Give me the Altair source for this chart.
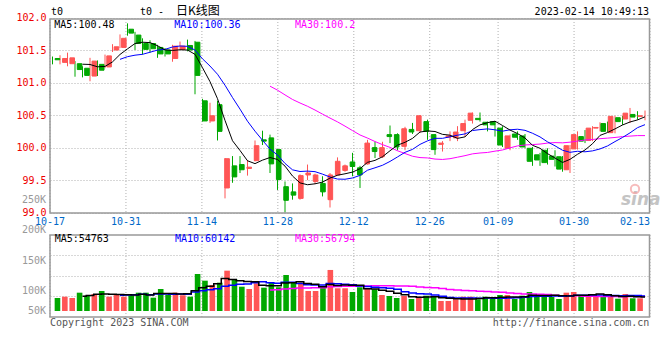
import altair as alt
import pandas as pd

RED = "#ff5555"
GREEN = "#00a800"
MONO = "DejaVu Sans Mono"
CJK = "Noto Sans CJK SC"

dates = ["10-17","10-18","10-19","10-20","10-21","10-24","10-25","10-26","10-27","10-28",
         "10-31","11-01","11-02","11-03","11-04","11-07","11-08","11-09","11-10","11-11",
         "11-14","11-15","11-16","11-17","11-18","11-21","11-22","11-23","11-24","11-25",
         "11-28","11-29","11-30","12-01","12-02","12-05","12-06","12-07","12-08","12-09",
         "12-12","12-13","12-14","12-15","12-16","12-19","12-20","12-21","12-22","12-23",
         "12-26","12-27","12-28","12-29","12-30","01-03","01-04","01-05","01-06",
         "01-09","01-10","01-11","01-12","01-13","01-16","01-17","01-18","01-19","01-20",
         "01-30","01-31","02-01","02-02","02-03","02-06","02-07","02-08","02-09","02-10","02-13"]

open_ = [101.37,101.31,101.29,101.29,101.22,101.10,101.28,101.24,101.50,101.54,
         101.82,101.73,101.60,101.60,101.54,101.50,101.37,101.51,101.57,101.62,
         100.72,100.41,100.66,99.38,99.72,99.74,99.68,99.80,100.12,100.15,
         99.97,99.40,99.32,99.22,99.58,99.48,99.45,99.20,99.58,99.65,
         99.78,99.69,99.75,100.00,99.86,100.20,100.20,100.02,100.28,100.26,
         100.40,100.20,100.05,100.16,100.15,100.26,100.42,100.45,100.39,
         100.40,100.30,99.99,100.21,100.18,99.99,99.89,99.96,99.87,99.86,
         99.66,99.98,100.17,100.11,100.30,100.37,100.23,100.46,100.44,100.51,100.48]
high = [101.40,101.42,101.46,101.33,101.25,101.38,101.34,101.43,101.59,101.74,
        101.91,101.78,101.68,101.65,101.58,101.53,101.58,101.63,101.66,101.64,
        100.75,100.69,100.72,99.84,99.87,99.87,99.81,100.11,100.26,100.20,
        99.98,99.48,99.45,99.59,99.74,99.60,99.56,99.61,99.85,99.74,
        99.92,99.72,100.12,100.09,100.09,100.34,100.22,100.32,100.38,100.50,
        100.43,100.21,100.10,100.25,100.33,100.43,100.54,100.54,100.40,
        100.41,100.33,100.20,100.25,100.21,100.01,99.92,99.99,99.96,99.87,
        100.04,100.25,100.27,100.33,100.39,100.40,100.49,100.49,100.61,100.56,100.57]
low = [101.28,101.28,101.25,101.09,101.08,101.02,101.10,101.22,101.47,101.53,
       101.72,101.50,101.43,101.46,101.38,101.40,101.32,101.50,101.48,100.82,
       100.40,100.38,100.11,99.22,99.46,99.61,99.57,99.79,100.04,99.61,
       99.35,99.00,99.20,99.20,99.50,99.44,99.25,99.08,99.57,99.63,
       99.56,99.38,99.74,99.84,99.84,100.07,99.96,99.96,100.21,100.23,
       100.12,99.89,99.94,100.10,100.10,100.17,100.37,100.40,100.25,
       100.17,100.01,99.96,100.12,99.99,99.72,99.72,99.74,99.71,99.63,
       99.61,99.97,100.07,100.10,100.25,100.24,100.22,100.35,100.38,100.43,100.42]
close = [101.35,101.37,101.38,101.20,101.11,101.33,101.19,101.41,101.55,101.68,
         101.76,101.60,101.51,101.52,101.44,101.44,101.56,101.56,101.50,101.11,
         100.41,100.49,100.25,99.83,99.55,99.66,99.70,100.03,100.10,99.75,
         99.51,99.19,99.27,99.57,99.61,99.58,99.32,99.58,99.79,99.72,
         99.71,99.58,100.07,99.94,100.00,100.17,100.01,100.29,100.24,100.49,
         100.25,99.97,100.07,100.18,100.24,100.37,100.53,100.43,100.35,
         100.35,100.04,100.18,100.16,100.01,99.79,99.81,99.77,99.82,99.67,
         100.03,100.20,100.10,100.30,100.31,100.25,100.48,100.40,100.53,100.47,100.49]
volume = [51500,56600,51500,72500,60600,67300,79200,56600,67300,56600,
          62200,72500,72500,52700,87100,63400,72500,62200,56600,146500,
          120000,103000,112100,159600,126700,96200,87100,109700,92300,114800,
          93900,142600,114800,112100,79200,79200,93900,162400,89900,89900,
          75200,93900,89900,85900,63400,59400,51500,59400,47500,56600,
          60600,56600,39600,39600,46300,56600,56600,46300,56600,
          47500,63400,63400,47500,60600,75200,62200,59400,55400,47500,
          72500,75200,63400,63400,60600,58200,58200,48700,67300,50300,50300]

label_dates = ["10-17","10-31","11-14","11-28","12-12","12-26","01-09","01-30","02-13"]
price_ticks = [99.0, 99.5, 100.0, 100.5, 101.0, 101.5, 102.0]
vol_grid_values = [60000, 140000, 220000]
vol_tick_values = [50000, 100000, 150000, 200000, 250000]
vol_tick_labels = ["50K", "100K", "150K", "200K", "250K"]

n = len(dates)
df = pd.DataFrame({"idx": list(range(n)), "date": dates, "open": open_, "high": high,
                   "low": low, "close": close, "volume": volume})
grid_df = pd.DataFrame({"idx": [dates.index(d) for d in label_dates], "label": label_dates})
vlab_df = pd.DataFrame({"v": vol_tick_values, "label": vol_tick_labels})

x_candle = alt.Scale(domain=[-1/3, n - 1/3], range=[0, 600], nice=False, zero=False)
x_grid = alt.Scale(domain=[0, n - 1], range=[0, 600], nice=False, zero=False)
y_price = alt.Scale(domain=[99, 102], range=[212.7, 17.5], nice=False, zero=False)
y_vol = alt.Scale(domain=[0, 300000], range=[311, 235.2], nice=False, zero=False)
y_vlab = alt.Scale(domain=vol_tick_values, range=[310.7, 290.7, 260.8, 230.3, 200.3],
                   nice=False, zero=False)
dir_scale = alt.Scale(domain=["up", "down"], range=[RED, GREEN])

base = alt.Chart(df).transform_calculate(dir="datum.close >= datum.open ? 'up' : 'down'")
xc = alt.X("idx:Q", scale=x_candle, axis=None)

wick = base.mark_rule(strokeWidth=1).encode(
    x=xc,
    y=alt.Y("low:Q", scale=y_price, axis=alt.Axis(
        orient="left", values=price_ticks, format=".1f", title=None,
        labelColor="#ee0000", labelFont=MONO, labelFontSize=10, labelPadding=4,
        ticks=False, tickSize=0, domain=False, grid=True, gridColor="#b0b0b0",
        gridDash=[1, 2])),
    y2="high:Q",
    color=alt.Color("dir:N", scale=dir_scale, legend=None),
)
body = base.mark_bar(size=4.6, strokeWidth=1).encode(
    x=xc,
    y=alt.Y("open:Q", scale=y_price, axis=None),
    y2="close:Q",
    color=alt.Color("dir:N", scale=dir_scale, legend=None),
    stroke=alt.Stroke("dir:N", scale=dir_scale, legend=None),
)
vbars = base.mark_bar(size=5.6).encode(
    x=xc,
    y=alt.Y("volume:Q", scale=y_vol, axis=alt.Axis(
        orient="left", values=vol_grid_values, title=None, labels=False, ticks=False,
        domain=False, grid=True, gridColor="#b0b0b0", gridDash=[1, 2])),
    y2=alt.datum(0),
    color=alt.Color("dir:N", scale=dir_scale, legend=None),
)


def ma_layer(field, k, color, yscale, interp="linear", width=1.0):
    return alt.Chart(df).transform_window(
        ma=f"mean({field})", cnt="count()", frame=[-(k - 1), 0],
        sort=[alt.SortField("idx")]
    ).transform_filter(f"datum.cnt >= {k}").mark_line(
        color=color, strokeWidth=width, interpolate=interp
    ).encode(x=xc, y=alt.Y("ma:Q", scale=yscale, axis=None))


ma_price = [ma_layer("close", 30, "#ff00ff", y_price),
            ma_layer("close", 10, "#0000ff", y_price),
            ma_layer("close", 5, "#000000", y_price)]
ma_vol = [ma_layer("volume", 30, "#ff00ff", y_vol, "step", 1.5),
          ma_layer("volume", 10, "#0000ff", y_vol, "step", 1.5),
          ma_layer("volume", 5, "#000000", y_vol, "step", 1.5)]

xg = alt.X("idx:Q", scale=x_grid, axis=None)
vgrid_top = alt.Chart(grid_df).mark_rule(color="#b0b0b0", strokeDash=[1, 2]).encode(
    x=xg, y=alt.value(19), y2=alt.value(213))
vgrid_bot = alt.Chart(grid_df).mark_rule(color="#b0b0b0", strokeDash=[1, 2]).encode(
    x=xg, y=alt.value(235), y2=alt.value(317))

date_lab = alt.Chart(grid_df).transform_filter(
    alt.datum.label != label_dates[-1]).mark_text(
    font=MONO, fontSize=10, color="#0068c8", align="center", baseline="middle").encode(
    x=xg, y=alt.value(221.7), text="label:N")
date_lab_last = alt.Chart(grid_df).transform_filter(
    alt.datum.label == label_dates[-1]).mark_text(
    font=MONO, fontSize=10, color="#0068c8", align="right", baseline="middle").encode(
    x=xg, y=alt.value(221.7), text="label:N")

vol_lab = alt.Chart(vlab_df).mark_text(
    font=MONO, fontSize=10, color="#999999", align="right", baseline="middle").encode(
    x=alt.value(-4), y=alt.Y("v:Q", scale=y_vlab, axis=None), text="label:N")

dummy = pd.DataFrame({"a": [0]})


def txt(s, x, y, color="#000000", align="left", size=10, font=MONO, **kw):
    return alt.Chart(dummy).mark_text(
        text=s, font=font, fontSize=size, color=color, align=align, baseline="middle", **kw
    ).encode(x=alt.value(x), y=alt.value(y))


texts = [
    txt("t0", 1, 12),
    txt("t0 -", 90, 12),
    txt("日K线图", 126, 11, size=12, font=CJK),
    txt("2023-02-14 10:49:13", 599, 12, align="right"),
    txt("MA5:100.48", 4.3, 24.5),
    txt("MA10:100.36", 124.3, 24.5, color="#0000ff"),
    txt("MA30:100.2", 245, 24.5, color="#ff00ff"),
    txt("MA5:54763", 4.7, 238.5),
    txt("MA10:60142", 125, 238.5, color="#0000ff"),
    txt("MA30:56794", 245, 238.5, color="#ff00ff"),
    txt("Copyright 2023 SINA.COM", 0, 323.3, color="#555555"),
    txt("http://finance.sina.com.cn", 599.3, 323.3, color="#555555", align="right"),
    txt("sina", 571, 200, color="#c4c4c4", size=17, font="DejaVu Sans",
        fontStyle="italic", fontWeight="bold"),
]
logo = alt.Chart(dummy).mark_point(shape="circle", filled=False, color="#f4a0a0",
                                   strokeWidth=2, size=70).encode(
    x=alt.value(585), y=alt.value(189))

frame_top = alt.Chart(dummy).mark_rect(filled=False, stroke="#999999", strokeWidth=1.5).encode(
    x=alt.value(0), x2=alt.value(599.5), y=alt.value(19), y2=alt.value(213))
frame_bot = alt.Chart(dummy).mark_rect(filled=False, stroke="#999999", strokeWidth=1.5).encode(
    x=alt.value(0), x2=alt.value(599.5), y=alt.value(235), y2=alt.value(317))

layers = ([vgrid_top, vgrid_bot, texts[-1], logo, wick, vbars, body] + ma_price + ma_vol +
          [frame_top, frame_bot, date_lab, date_lab_last, vol_lab] + texts[:-1])

chart = alt.layer(*layers).resolve_scale(x="independent", y="independent").properties(
    width=600, height=360,
    padding={"left": 50, "right": 10, "top": 0, "bottom": 0},
    autosize=alt.AutoSizeParams(type="none"),
    background="#ffffff",
).configure_view(strokeWidth=0)

chart.save("out.html", embed_options={"renderer": "svg", "actions": False})
